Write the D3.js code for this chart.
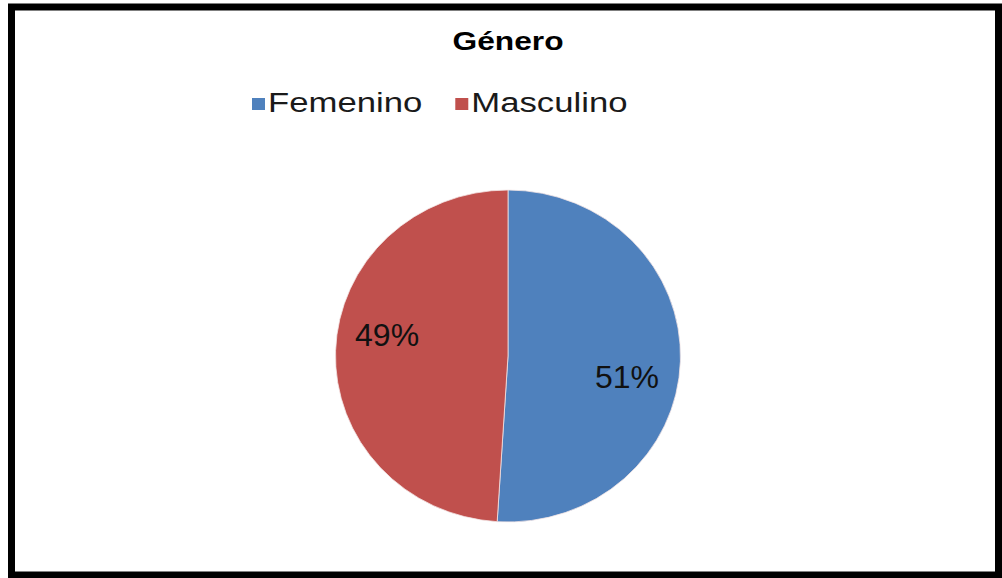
<!DOCTYPE html>
<html>
<head>
<meta charset="utf-8">
<script src="https://cdn.jsdelivr.net/npm/d3@7"></script>
<style>
  body { margin: 0; background: #fff; }
  text { font-family: Arial, "Liberation Sans", sans-serif; }
</style>
</head>
<body>
<div id="chart"></div>
<script>
// data
var categories = ["Femenino", "Masculino"];
var values = [51, 49];
var colors = ["#4F81BD", "#C0504D"];
var title = "Género";

var width = 1002, height = 578;
var svg = d3.select("#chart").append("svg")
  .attr("width", width)
  .attr("height", height);

// outer black frame
svg.append("rect")
  .attr("x", 11.5).attr("y", 7)
  .attr("width", 987).attr("height", 568)
  .attr("fill", "#fff")
  .attr("stroke", "#000")
  .attr("stroke-width", 7);

// title (the source text is a bit stretched sideways)
svg.append("text")
  .attr("transform", "translate(508,50) scale(1.22,1)")
  .attr("text-anchor", "middle")
  .attr("font-size", 26)
  .attr("font-weight", "bold")
  .attr("fill", "#000")
  .text(title);

// legend
var stretch = 1.24;
var legend = svg.append("g").attr("transform", "translate(252,0)");
var xPos = 0;
categories.forEach(function(c, i) {
  var item = legend.append("g").attr("transform", "translate(" + xPos + ",0)");
  item.append("rect")
    .attr("x", 0).attr("y", 98)
    .attr("width", 13).attr("height", 12)
    .attr("fill", colors[i]);
  var t = item.append("text")
    .attr("transform", "translate(16,112) scale(" + stretch + ",1)")
    .attr("font-size", 28)
    .attr("fill", "#1a1a1a")
    .text(c);
  xPos += 16 + t.node().getComputedTextLength() * stretch + 33;
});

// pie (slightly wider than tall, like the picture)
var cx = 508, cy = 356, rx = 172.5, ry = 166;
var pie = d3.pie().sort(null).value(function(d) { return d; });
var arcs = pie(values);
var arc = d3.arc().innerRadius(0).outerRadius(rx);

var g = svg.append("g")
  .attr("transform", "translate(" + cx + "," + cy + ") scale(1," + (ry / rx) + ")");

g.selectAll("path")
  .data(arcs)
  .enter().append("path")
  .attr("d", arc)
  .attr("fill", function(d, i) { return colors[i]; })
  .attr("stroke", "#f4e6e6")
  .attr("stroke-width", 0.8);

// percent labels
var total = d3.sum(values);
var labelArc = d3.arc().innerRadius(0).outerRadius(240);
svg.selectAll("text.pct")
  .data(arcs)
  .enter().append("text")
  .attr("class", "pct")
  .attr("x", function(d) { return cx + labelArc.centroid(d)[0] - 1; })
  .attr("y", function(d) {
    var c = labelArc.centroid(d);
    var shift = c[0] > 0 ? 17 : -17;
    return cy + c[1] * ry / rx + shift + 11;
  })
  .attr("text-anchor", "middle")
  .attr("font-size", 32)
  .attr("fill", "#111")
  .text(function(d) { return Math.round(d.value / total * 100) + "%"; });
</script>
</body>
</html>
